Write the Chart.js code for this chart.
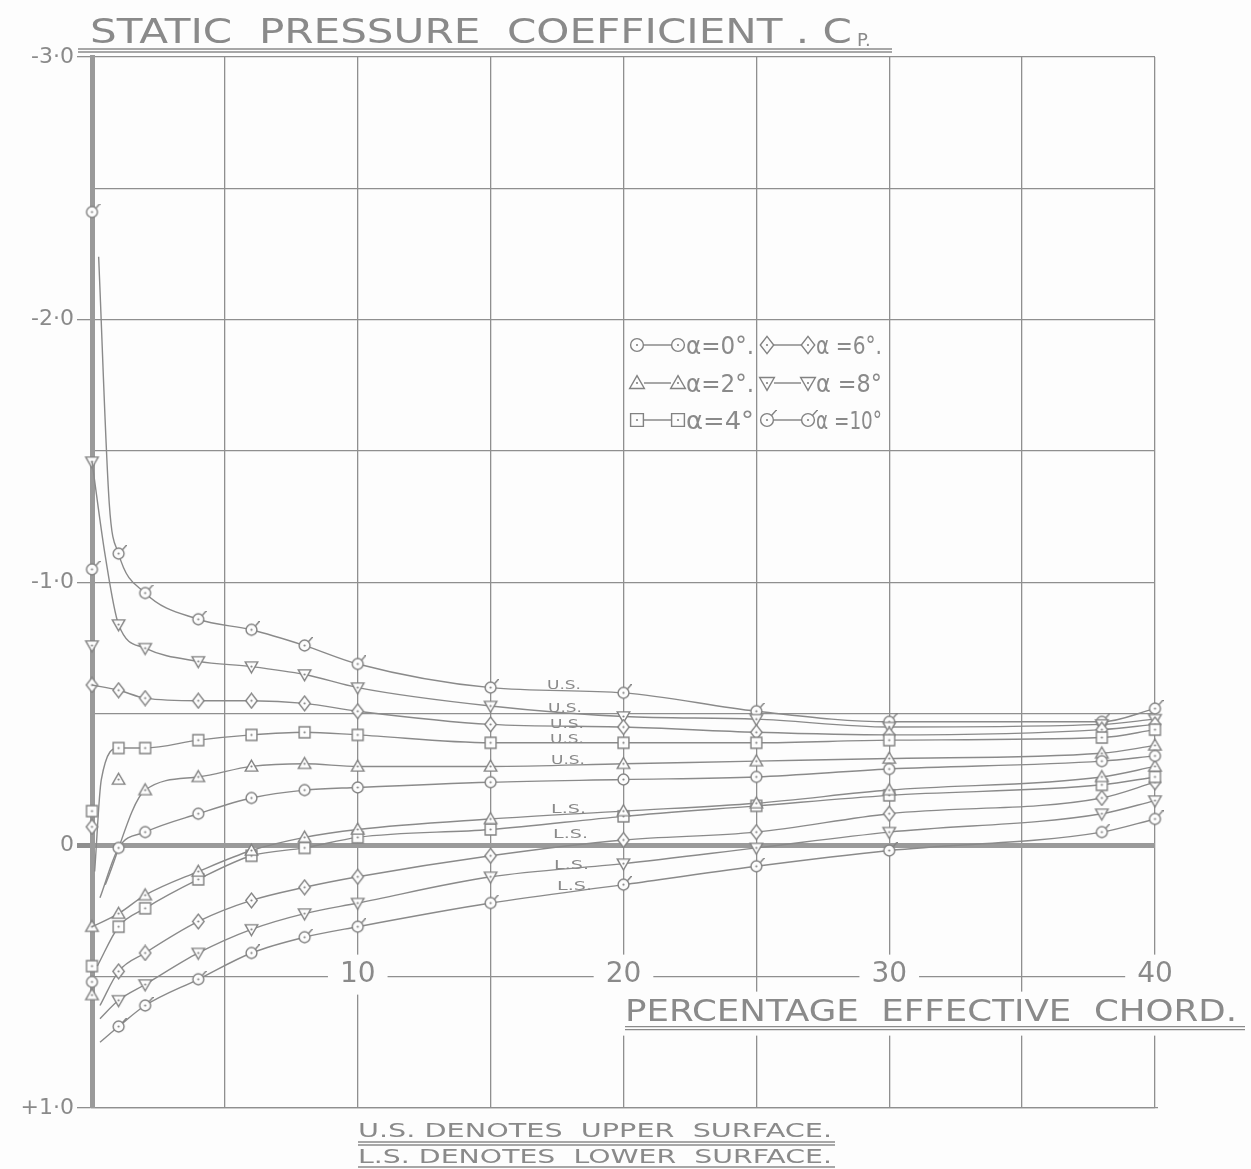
<!DOCTYPE html>
<html>
<head>
<meta charset="utf-8">
<script src="https://cdn.jsdelivr.net/npm/chart.js@4"></script>
<style>
  body { margin: 0; background: #fdfdfd; }
  canvas { display: block; }
</style>
</head>
<body>
<canvas id="cpChart" width="1251" height="1169"></canvas>
<script>
// stations along the chord (% effective chord) where the orifices sit
const chord = [1, 2, 4, 6, 8, 10, 15, 20, 25, 30, 38, 40];

// static pressure coefficient, upper surface (null = no point on the faired curve)
const upper0  = [0.01, -0.05, -0.12, -0.18, -0.21, -0.22, -0.24, -0.25, -0.26, -0.29, -0.32, -0.34];
const upper2  = [null, -0.21, -0.26, -0.30, -0.31, -0.30, -0.30, -0.31, -0.32, -0.33, -0.35, -0.38];
const upper4  = [-0.37, -0.37, -0.40, -0.42, -0.43, -0.42, -0.39, -0.39, -0.39, -0.40, -0.41, -0.44];
const upper6  = [-0.59, -0.56, -0.55, -0.55, -0.54, -0.51, -0.46, -0.45, -0.43, -0.42, -0.44, -0.46];
const upper8  = [-0.84, -0.75, -0.70, -0.68, -0.65, -0.60, -0.53, -0.49, -0.48, -0.45, -0.46, -0.48];
const upper10 = [-1.11, -0.96, -0.86, -0.82, -0.76, -0.69, -0.60, -0.58, -0.51, -0.47, -0.47, -0.52];

// lower surface
const lower2  = [0.26, 0.19, 0.10, 0.02, -0.03, -0.06, -0.10, -0.13, -0.16, -0.21, -0.26, -0.30];
const lower4  = [0.31, 0.24, 0.13, 0.04, 0.01, -0.03, -0.06, -0.11, -0.15, -0.19, -0.23, -0.26];
const lower6  = [0.48, 0.41, 0.29, 0.21, 0.16, 0.12, 0.04, -0.02, -0.05, -0.12, -0.18, -0.24];
const lower8  = [0.59, 0.53, 0.41, 0.32, 0.26, 0.22, 0.12, 0.07, 0.01, -0.05, -0.12, -0.17];
const lower10 = [0.69, 0.61, 0.51, 0.41, 0.35, 0.31, 0.22, 0.15, 0.08, 0.02, -0.05, -0.10];

// where the faired curves leave the leading edge (no marker there)
const upperLeadX = [[0.3], [0.5], [0.1, 0.35], [0], [0, 0.5], [0.25, 0.65]];
const upperLeadY = [[0.2], [0.15], [0.1, -0.25], [-0.61], [-1.46, -1.1], [-2.24, -1.3]];
const lowerLeadX = [[0], [0.2], [0.3], [0.3], [0.3]];
const lowerLeadY = [[0.31], [0.46], [0.61], [0.66], [0.75]];

// loose points, mostly the leading edge orifice
const edgeX = [[0], [1, 0, 0], [0, 0], [0, 0], [0, 0], [0, 0]];
const edgeY = [[0.52], [-0.25, 0.31, 0.57], [-0.13, 0.46], [-0.61, -0.07], [-1.46, -0.76], [-2.41, -1.05]];

const alphas = [0, 2, 4, 6, 8, 10];
const yLabels = { '-3': '-3·0', '-2': '-2·0', '-1': '-1·0', '0': '0', '1': '+1·0' };
const xLabels = [10, 20, 30, 40];

const INK = '#828282';
const LINE = '#8a8a8a';
const TEXT = '#8a8a8a';

function makeMarker(kind, size) {
    const c = document.createElement('canvas');
    c.width = c.height = size;
    const g = c.getContext('2d');
    const m = size / 2, r = size * 0.32;
    g.strokeStyle = INK;
    g.fillStyle = '#fdfdfd';
    g.lineWidth = 1.4;
    g.beginPath();
    if (kind === 'circle' || kind === 'tick') {
        g.arc(m, m, r, 0, Math.PI * 2);
    } else if (kind === 'up') {
        g.moveTo(m, m - r * 1.15); g.lineTo(m + r * 1.15, m + r * 0.85); g.lineTo(m - r * 1.15, m + r * 0.85); g.closePath();
    } else if (kind === 'down') {
        g.moveTo(m, m + r * 1.15); g.lineTo(m + r * 1.15, m - r * 0.85); g.lineTo(m - r * 1.15, m - r * 0.85); g.closePath();
    } else if (kind === 'square') {
        g.rect(m - r, m - r, r * 2, r * 2);
    } else if (kind === 'diamond') {
        g.moveTo(m, m - r * 1.35); g.lineTo(m + r * 1.05, m); g.lineTo(m, m + r * 1.35); g.lineTo(m - r * 1.05, m); g.closePath();
    }
    g.fill();
    g.stroke();
    if (kind === 'tick') {
        g.beginPath();
        g.moveTo(m + r * 0.7, m - r * 0.7);
        g.lineTo(m + r * 1.5, m - r * 1.6);
        g.stroke();
    }
    g.beginPath();
    g.fillStyle = INK;
    g.arc(m, m, 1.1, 0, Math.PI * 2);
    g.fill();
    return c;
}

const kinds = ['circle', 'up', 'square', 'diamond', 'down', 'tick'];
const markers = kinds.map(k => makeMarker(k, 17));
const legendMarkers = kinds.map(k => makeMarker(k, 20));

function curve(leadX, leadY, vals, marker, label) {
    const data = [], radius = [];
    leadX.forEach((x, i) => { data.push({ x: x, y: leadY[i] }); radius.push(0); });
    chord.forEach((x, i) => {
        if (vals[i] === null) return;
        data.push({ x: x, y: vals[i] });
        radius.push(5);
    });
    return {
        label: label,
        data: data,
        borderColor: LINE,
        borderWidth: 1.4,
        pointStyle: marker,
        pointRadius: radius,
        cubicInterpolationMode: 'monotone',
        clip: false
    };
}

const uppers = [upper0, upper2, upper4, upper6, upper8, upper10];
const lowers = [null, lower2, lower4, lower6, lower8, lower10];

const datasets = [];
alphas.forEach((a, i) => {
    datasets.push(curve(upperLeadX[i], upperLeadY[i], uppers[i], markers[i], 'U.S. α=' + a + '°'));
    if (lowers[i]) {
        datasets.push(curve(lowerLeadX[i - 1], lowerLeadY[i - 1], lowers[i], markers[i], 'L.S. α=' + a + '°'));
    }
    datasets.push({
        label: 'edge α=' + a + '°',
        data: edgeX[i].map((x, j) => ({ x: x, y: edgeY[i][j] })),
        showLine: false,
        pointStyle: markers[i],
        pointRadius: 5,
        clip: false
    });
});

function fitText(ctx, text, x, y, width) {
    const w = ctx.measureText(text).width;
    ctx.save();
    ctx.translate(x, y);
    ctx.scale(width / w, 1);
    ctx.fillText(text, 0, 0);
    ctx.restore();
}

function underline(ctx, x1, x2, y, double) {
    ctx.save();
    ctx.strokeStyle = '#8a8a8a';
    ctx.lineWidth = 1.3;
    ctx.beginPath();
    ctx.moveTo(x1, y); ctx.lineTo(x2, y);
    if (double) { ctx.moveTo(x1, y + 3); ctx.lineTo(x2, y + 3); }
    ctx.stroke();
    ctx.restore();
}

const FONT = '"DejaVu Sans", sans-serif';

const paperPlugin = {
    id: 'paper',
    beforeDraw(chart) {
        const ctx = chart.ctx;
        ctx.save();
        ctx.fillStyle = '#fdfdfd';
        ctx.fillRect(0, 0, chart.width, chart.height);
        ctx.restore();
    },
    afterDraw(chart) {
        const ctx = chart.ctx;
        const xs = chart.scales.x, ys = chart.scales.y;
        ctx.save();
        ctx.fillStyle = TEXT;
        ctx.textBaseline = 'alphabetic';

        // title
        ctx.font = '34px ' + FONT;
        fitText(ctx, 'STATIC  PRESSURE  COEFFICIENT . C', 90, 43, 762);
        ctx.font = '18px ' + FONT;
        ctx.fillText('P.', 857, 46);
        underline(ctx, 78, 892, 49, true);

        // chord labels sitting on the +0.5 line
        const yHalf = ys.getPixelForValue(0.5);
        ctx.font = '28px ' + FONT;
        ctx.textAlign = 'center';
        xLabels.forEach(v => {
            const px = xs.getPixelForValue(v);
            const w = ctx.measureText(String(v)).width;
            ctx.fillStyle = '#fdfdfd';
            ctx.fillRect(px - w / 2 - 12, yHalf - 22, w + 24, 40);
            ctx.fillStyle = TEXT;
            ctx.fillText(String(v), px, yHalf + 5);
        });

        // axis title
        ctx.textAlign = 'left';
        ctx.fillStyle = '#fdfdfd';
        ctx.fillRect(612, yHalf + 15, chart.width - 612, 44);
        ctx.fillStyle = TEXT;
        ctx.font = '31px ' + FONT;
        fitText(ctx, 'PERCENTAGE  EFFECTIVE  CHORD.', 625, yHalf + 44, 612);
        underline(ctx, 625, 1245, yHalf + 50, true);

        // notes under the chart
        ctx.font = '19px ' + FONT;
        fitText(ctx, 'U.S. DENOTES  UPPER  SURFACE.', 358, 1137, 474);
        underline(ctx, 358, 835, 1142, true);
        fitText(ctx, 'L.S. DENOTES  LOWER  SURFACE.', 358, 1163, 474);
        underline(ctx, 358, 835, 1167, false);

        // surface tags on the curves
        ctx.font = '13px ' + FONT;
        [[547, 689], [548, 712], [550, 728], [550, 743], [551, 764]].forEach(p => fitText(ctx, 'U.S.', p[0], p[1], 34));
        [[551, 813], [553, 838], [554, 869], [557, 890]].forEach(p => fitText(ctx, 'L.S.', p[0], p[1], 35));

        // legend
        const rows = [[0, 3], [1, 4], [2, 5]];
        const rowY = [345, 383, 420];
        ctx.font = '24px ' + FONT;
        rows.forEach((r, ri) => {
            const y = rowY[ri];
            r.forEach((k, ci) => {
                const x0 = ci === 0 ? 637 : 767;
                const x1 = x0 + 41;
                ctx.strokeStyle = INK;
                ctx.lineWidth = 1.4;
                ctx.beginPath();
                ctx.moveTo(x0 + 7, y); ctx.lineTo(x1 - 7, y);
                ctx.stroke();
                ctx.drawImage(legendMarkers[k], x0 - 10, y - 10);
                ctx.drawImage(legendMarkers[k], x1 - 10, y - 10);
                const txt = ci === 0 ? 'α=' + alphas[k] + '°' + (k < 2 ? '.' : '') : 'α =' + alphas[k] + '°' + (k === 3 ? '.' : '');
                ctx.fillStyle = TEXT;
                fitText(ctx, txt, x1 + 8, y + 9, ci === 0 ? 68 : 66);
            });
        });
        ctx.restore();
    }
};

new Chart(document.getElementById('cpChart'), {
    type: 'line',
    data: { datasets: datasets },
    options: {
        responsive: false,
        animation: false,
        devicePixelRatio: 1,
        layout: { padding: { left: 0, right: 96, top: 57, bottom: 61 } },
        plugins: {
            legend: { display: false },
            tooltip: { enabled: false }
        },
        scales: {
            x: {
                type: 'linear',
                min: 0,
                max: 40,
                ticks: { stepSize: 5, display: false },
                grid: {
                    color: '#8f8f8f',
                    lineWidth: c => c.tick && c.tick.value === 0 ? 5 : 1.3,
                    drawTicks: false
                },
                border: { color: '#8f8f8f', width: 1.3 },
                afterFit: s => { s.height = 0; }
            },
            y: {
                type: 'linear',
                min: -3,
                max: 1,
                reverse: true,
                ticks: {
                    stepSize: 0.5,
                    color: TEXT,
                    font: { family: FONT, size: 22 },
                    padding: 3,
                    callback: v => yLabels[String(v)] !== undefined ? yLabels[String(v)] : ''
                },
                grid: {
                    color: c => c.tick && c.tick.value === 0 ? '#9a9a9a' : '#8f8f8f',
                    lineWidth: c => c.tick && c.tick.value === 0 ? 5 : 1.3,
                    tickLength: 15,
                    tickColor: c => c.tick && Number.isInteger(c.tick.value) ? '#8f8f8f' : 'rgba(0,0,0,0)'
                },
                border: { color: '#9a9a9a', width: 5 },
                afterFit: s => { s.width = 92; }
            }
        }
    },
    plugins: [paperPlugin]
});
</script>
</body>
</html>
